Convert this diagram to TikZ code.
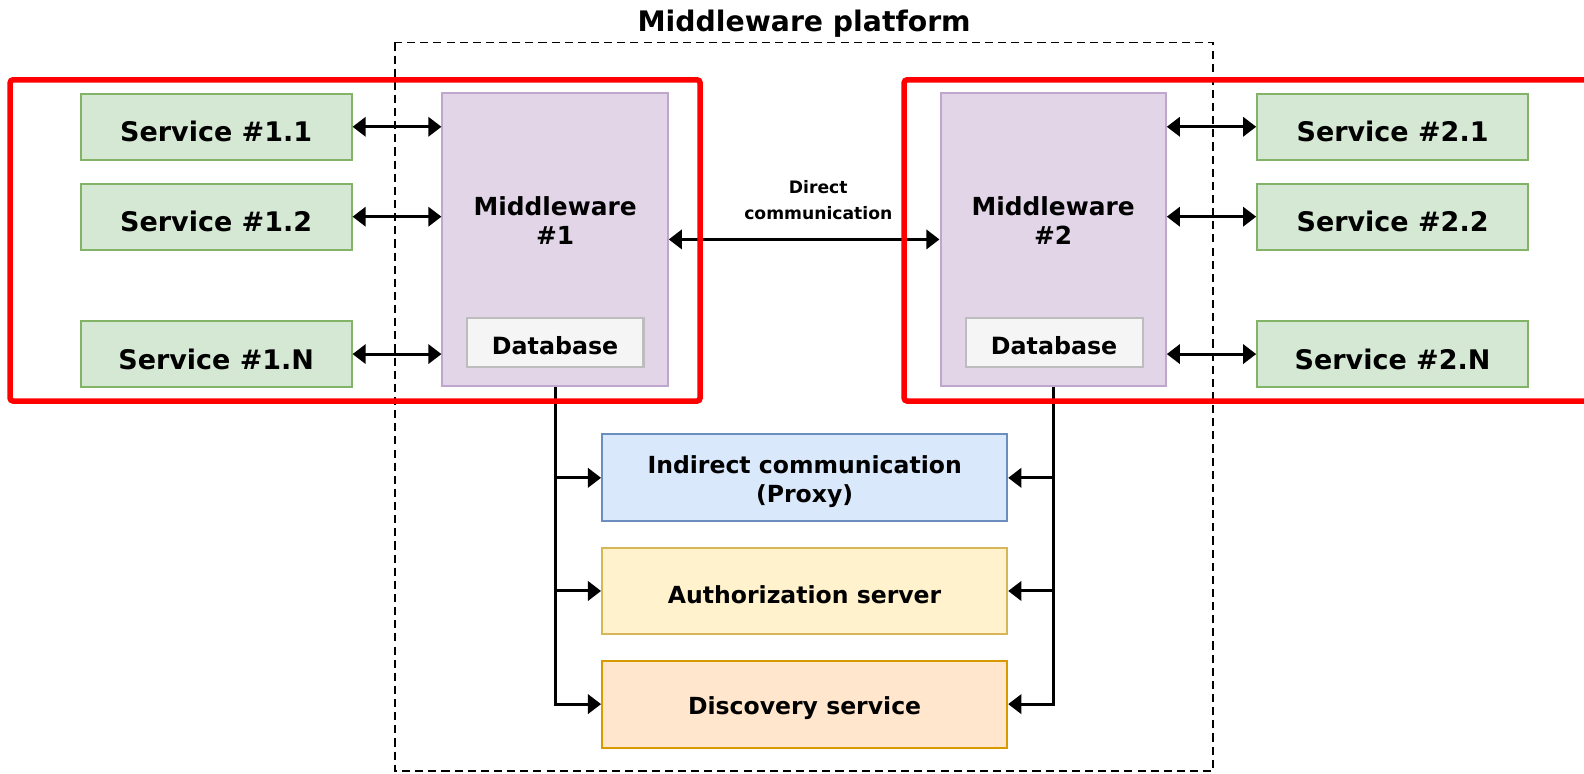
\documentclass[tikz,border=0pt]{standalone}
\usepackage{fontspec}
\setmainfont{DejaVu Sans}
\usetikzlibrary{arrows.meta}
\definecolor{gfill}{HTML}{D5E8D4}\definecolor{gdraw}{HTML}{82B366}
\definecolor{pfill}{HTML}{E1D5E7}\definecolor{pdraw}{HTML}{BFA6CC}
\definecolor{dbfill}{HTML}{F5F5F5}\definecolor{dbdraw}{HTML}{BDBDBD}
\definecolor{bfill}{HTML}{DAE8FC}\definecolor{bdraw}{HTML}{6C8EBF}
\definecolor{yfill}{HTML}{FFF2CC}\definecolor{ydraw}{HTML}{D6B656}
\definecolor{ofill}{HTML}{FFE6CC}\definecolor{odraw}{HTML}{D79B00}
\definecolor{redline}{HTML}{FF0000}
\newcommand\lowtext[2]{\raisebox{-#1}[\height][\depth]{#2}}
\tikzset{
  box/.style={rectangle, line width=2pt, inner sep=0pt, align=center, font=\bfseries\fontsize{23.3}{28}\selectfont},
  svc/.style={box, fill=gfill, draw=gdraw, minimum width=268pt, minimum height=65pt, font=\bfseries\fontsize{26.7}{31}\selectfont},
  mw/.style={box, fill=pfill, draw=pdraw, minimum width=223pt, minimum height=290pt},
  db/.style={box, fill=dbfill, draw=dbdraw, minimum width=175pt, minimum height=48pt, font=\bfseries\fontsize{23.5}{27}\selectfont},
  lower/.style={box, minimum width=401pt, minimum height=86pt},
  conn/.style={line width=3pt, -{Triangle[length=13pt,width=19pt]}},
  biconn/.style={line width=3pt, {Triangle[length=13pt,width=19pt]}-{Triangle[length=13pt,width=19pt]}},
  redbox/.style={draw=redline, line width=5.5pt, rounded corners=3pt},
  txt/.style={inner sep=0pt, align=center},
}
\begin{document}
\begin{tikzpicture}[x=1pt,y=-1pt]
\useasboundingbox (0,0) rectangle (1568,765.2);
\begin{scope}
\clip (0,0) rectangle (1568,765.2);
% platform
\draw[dashed, line width=1.8pt, dash pattern=on 8pt off 5pt] (391,42) rectangle (1201,763);
\node[txt, font=\bfseries\fontsize{28}{33}\selectfont] (title) at (796,23.5) {Middleware platform};
% services left
\node[svc] (s11) at (214,125.5) {\lowtext{5pt}{Service \#1.1}};
\node[svc] (s12) at (214,214.5) {\lowtext{5pt}{Service \#1.2}};
\node[svc] (s1n) at (214,350.5) {\lowtext{5pt}{Service \#1.N}};
% services right
\node[svc] (s21) at (1378.5,125.5) {\lowtext{5pt}{Service \#2.1}};
\node[svc] (s22) at (1378.5,214.5) {\lowtext{5pt}{Service \#2.2}};
\node[svc] (s2n) at (1378.5,350.5) {\lowtext{5pt}{Service \#2.N}};
% middleware
\node[mw] (m1) at (549.5,237) {};
\node[mw] (m2) at (1042.5,237) {};
\node[txt, font=\bfseries\fontsize{24.6}{29}\selectfont] (m1t) at (549.5,218) {Middleware\\\#1};
\node[txt, font=\bfseries\fontsize{24.6}{29}\selectfont] (m2t) at (1042.5,218) {Middleware\\\#2};
\node[db] (db1) at (549.5,339) {\lowtext{3pt}{Database}};
\node[db] (db2) at (1043.5,339) {\lowtext{3pt}{Database}};
% lower boxes
\node[lower, fill=bfill, draw=bdraw] (ind) at (796.5,473) {\lowtext{4.5pt}{\begin{tabular}{@{}c@{}}Indirect communication\\(Proxy)\end{tabular}}};
\node[lower, fill=yfill, draw=ydraw] (auth) at (796.5,585) {\lowtext{4pt}{Authorization server}};
\node[lower, fill=ofill, draw=odraw] (disc) at (796.5,697) {\lowtext{4pt}{Discovery service}};
% service connectors
\draw[biconn] (s11.east) -- (m1.west |- s11.east);
\draw[biconn] (s12.east) -- (m1.west |- s12.east);
\draw[biconn] (s1n.east) -- (m1.west |- s1n.east);
\draw[biconn] (s21.west) -- (m2.east |- s21.west);
\draw[biconn] (s22.west) -- (m2.east |- s22.west);
\draw[biconn] (s2n.west) -- (m2.east |- s2n.west);
% direct communication
\draw[biconn] (m1.east) -- (m2.west);
\node[txt, font=\bfseries\fontsize{17}{25}\selectfont] (dclabel) at (810,198) {Direct\\communication};
% buses
\draw[conn] (m1.south) -- (m1.south |- disc.west) -- (disc.west);
\draw[conn] (m1.south |- ind.west) -- (ind.west);
\draw[conn] (m1.south |- auth.west) -- (auth.west);
\draw[conn] (m2.south) -- (m2.south |- disc.east) -- (disc.east);
\draw[conn] (m2.south |- ind.east) -- (ind.east);
\draw[conn] (m2.south |- auth.east) -- (auth.east);
% red highlight boxes
\draw[redbox] (10,79) rectangle (693,397);
\draw[redbox] (1580,79) -- (895,79) -- (895,397) -- (1580,397);
\end{scope}
\end{tikzpicture}
\end{document}
